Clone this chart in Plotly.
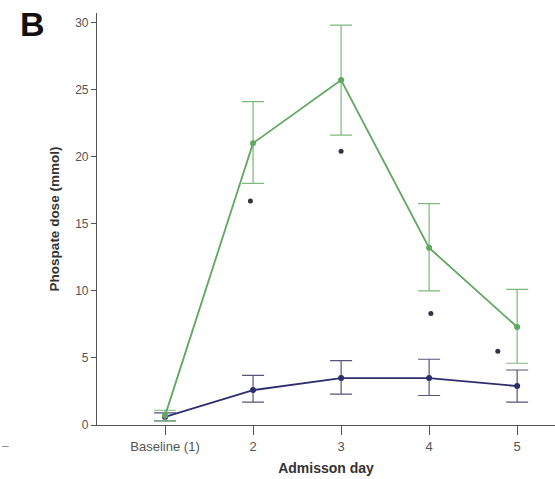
import plotly.graph_objects as go

days = [1, 2, 3, 4, 5]
tick_labels = ["Baseline (1)", "2", "3", "4", "5"]

green_mean = [0.7, 21.0, 25.7, 13.2, 7.3]
green_hi = [1.1, 24.1, 29.8, 16.5, 10.1]
green_lo = [0.3, 18.0, 21.6, 10.0, 4.6]

blue_mean = [0.6, 2.6, 3.5, 3.5, 2.9]
blue_hi = [0.9, 3.7, 4.8, 4.9, 4.1]
blue_lo = [0.3, 1.7, 2.3, 2.2, 1.7]

outlier_x = [1.97, 3.0, 4.02, 4.78]
outlier_y = [16.7, 20.4, 8.3, 5.5]

green = "#5fa85f"
navy = "#2e2e6e"

fig = go.Figure()

fig.add_trace(go.Scatter(
    x=days, y=blue_mean, mode="lines+markers",
    line=dict(color=navy, width=1.8),
    marker=dict(color=navy, size=6),
    error_y=dict(type="data", symmetric=False,
                 array=[h - m for h, m in zip(blue_hi, blue_mean)],
                 arrayminus=[m - l for m, l in zip(blue_mean, blue_lo)],
                 color="#55557a", thickness=1.2, width=11),
    cliponaxis=False, showlegend=False))

fig.add_trace(go.Scatter(
    x=days, y=green_mean, mode="lines+markers",
    line=dict(color=green, width=1.8),
    marker=dict(color=green, size=6),
    error_y=dict(type="data", symmetric=False,
                 array=[h - m for h, m in zip(green_hi, green_mean)],
                 arrayminus=[m - l for m, l in zip(green_mean, green_lo)],
                 color="#7db87d", thickness=1.2, width=11),
    cliponaxis=False, showlegend=False))

fig.add_trace(go.Scatter(
    x=outlier_x, y=outlier_y, mode="markers",
    marker=dict(color="#333344", size=5),
    cliponaxis=False, showlegend=False))

fig.update_layout(
    width=555, height=479,
    margin=dict(l=97, r=0, t=13, b=54),
    paper_bgcolor="white", plot_bgcolor="white",
    font=dict(family="Liberation Sans, Arial, sans-serif", color="#444444", size=12),
    xaxis=dict(range=[0.227, 5.43], tickmode="array", tickvals=days, ticktext=tick_labels,
               showline=True, linecolor="#555555", linewidth=1.2,
               ticks="outside", ticklen=9, tickcolor="#555555", tickwidth=1.2,
               tickfont=dict(size=13, color="#555555"),
               showgrid=False, zeroline=False,
               title=dict(text="<b>Admisson day</b>", font=dict(size=14, color="#333333"), standoff=10)),
    yaxis=dict(range=[0, 30.7], tickmode="array", tickvals=[0, 5, 10, 15, 20, 25, 30],
               showline=True, linecolor="#555555", linewidth=1.2,
               ticks="outside", ticklen=5, tickcolor="#555555", tickwidth=1.2,
               tickfont=dict(size=12, color="#555555"),
               showgrid=False, zeroline=False,
               title=dict(text="<b>Phospate dose (mmol)</b>", font=dict(size=13.5, color="#333333"), standoff=12)),
    annotations=[
        dict(text="<b>B</b>", x=18, y=479 - 24, xref="paper", yref="paper",
             showarrow=False, font=dict(size=34, color="#111111"), xanchor="left", yanchor="middle"),
        dict(text="–", x=0, y=479 - 446, xref="paper", yref="paper",
             showarrow=False, font=dict(size=12, color="#888888"), xanchor="left", yanchor="middle"),
    ],
)
# convert pixel-based annotation positions to paper fractions
plot_w, plot_h = 555 - 97, 479 - 13 - 54
for a in fig.layout.annotations:
    a.x = (a.x - 97) / plot_w
    a.y = (a.y - 54) / plot_h

fig.write_html("out.html")
